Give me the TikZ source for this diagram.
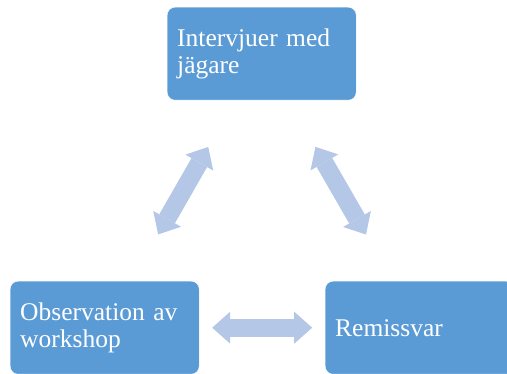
\documentclass[tikz,border=0pt]{standalone}
\usepackage{fontspec}
\setmainfont{Liberation Serif}
\usepackage{xcolor}
\usetikzlibrary{arrows.meta}
\definecolor{boxblue}{HTML}{5B9BD5}
\definecolor{arrowblue}{HTML}{B4C7E7}

\begin{document}
\begin{tikzpicture}[x=1pt,y=-1pt]
    \tikzstyle{step box}=[rectangle, rounded corners=8pt, fill=boxblue, draw=white, thin,
        minimum width=189pt, minimum height=93pt, text width=169pt, inner xsep=10pt,
        align=left, anchor=north west, text=white,
        font=\fontsize{25.5}{27.5}\selectfont]
    \tikzstyle{link}=[arrowblue, line width=18pt,
        {Triangle[width=32pt,length=18pt,line width=0pt]}-{Triangle[width=32pt,length=18pt,line width=0pt]},
        shorten <=107.5pt, shorten >=107.5pt]
    \clip (0,0) rectangle (507,374);
    \node[step box] (intervjuer) at (167,7) {Intervjuer med\\jägare};
    \node[step box] (observation) at (10,281) {Observation av\\workshop};
    \node[step box] (remiss) at (325,281) {Remissvar};
    \draw[link] (intervjuer.center) -- (observation.center);
    \draw[link] (intervjuer.center) -- (remiss.center);
    \draw[link] (observation.center) -- (remiss.center);
\end{tikzpicture}
\end{document}
